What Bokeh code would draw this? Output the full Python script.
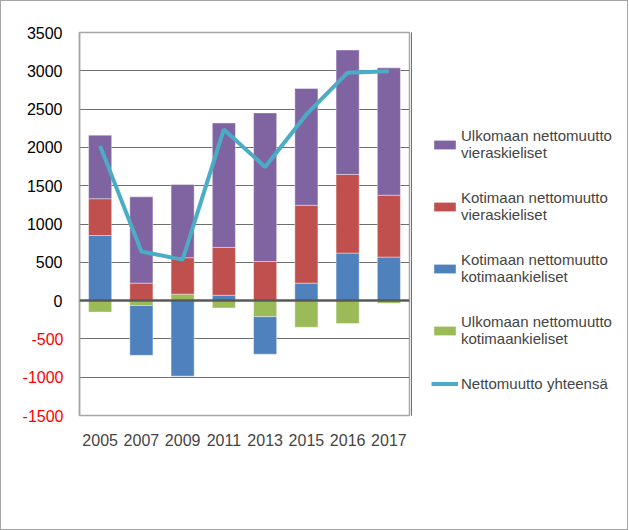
import numpy as np
from bokeh.plotting import figure
from bokeh.layouts import row
from bokeh.models import (ColumnDataSource, FixedTicker, LinearAxis, Legend, LegendItem,
                          Range1d, Span, Label)
from bokeh.embed import file_html
from bokeh.resources import INLINE

# ---- data ----
years = ["2005", "2007", "2009", "2011", "2013", "2015", "2016", "2017"]
ulk_kotimaank = [-150, -65, 84, -96, -210, -348, -300, -35]      # green
kot_kotimaank = [850, -650, -986, 70, -490, 228, 620, 568]        # blue
kot_vieras = [480, 228, 476, 624, 511, 1017, 1027, 808]           # red
ulk_vieras = [830, 1127, 955, 1625, 1939, 1524, 1624, 1663]       # purple
yhteensa = [2020, 640, 535, 2235, 1745, 2430, 2975, 2995]         # line

series_names = ["Ulkomaan nettomuutto\nkotimaankieliset",
                "Kotimaan nettomuutto\nkotimaankieliset",
                "Kotimaan nettomuutto\nvieraskieliset",
                "Ulkomaan nettomuutto\nvieraskieliset"]
line_name = "Nettomuutto yhteensä"
pos_ticks = [0, 500, 1000, 1500, 2000, 2500, 3000, 3500]
neg_ticks = [-1500, -1000, -500]
source_text = "Lähde:Tilastokeskus"

colors = ["#9BBB59", "#4F81BD", "#C0504D", "#8064A2"]
line_color = "#4BACC6"

FONT = "Liberation Sans"

xpos = [i for i in range(len(years))]

# ---- main chart ----
p = figure(x_range=Range1d(-0.5, len(years) - 0.5), y_range=Range1d(-1500, 3500),
           width=410, height=528, output_backend="svg", toolbar_location=None,
           min_border_left=78, min_border_top=31, min_border_right=2, min_border_bottom=114)

# stacked bars (positive and negative stacked separately, Excel style)
data = [ulk_kotimaank, kot_kotimaank, kot_vieras, ulk_vieras]
pos_base = np.zeros(len(years))
neg_base = np.zeros(len(years))
for vals, col in zip(data, colors):
    v = np.array(vals, dtype=float)
    bottom = np.where(v >= 0, pos_base, neg_base)
    top = bottom + v
    pos_base = np.where(v >= 0, top, pos_base)
    neg_base = np.where(v < 0, top, neg_base)
    src = ColumnDataSource(dict(x=xpos, bottom=bottom, top=top))
    p.vbar(x="x", bottom="bottom", top="top", width=0.56, source=src,
           fill_color=col, line_color="white", line_alpha=0.5, line_width=0.8)

p.line(x=xpos, y=yhteensa, line_color=line_color, line_width=4)

# grid
p.xgrid.grid_line_color = None
p.ygrid.ticker = FixedTicker(ticks=neg_ticks + pos_ticks[1:])
p.ygrid.grid_line_color = "#6e6e6e"
p.ygrid.grid_line_width = 1
p.ygrid.level = "underlay"
zero = Span(location=0, dimension="width", line_color="#595959", line_width=2.5)
p.add_layout(zero)

p.outline_line_color = "#a6a6a6"
p.outline_line_width = 1.5

# y axis: positive labels in black
p.yaxis.ticker = FixedTicker(ticks=pos_ticks)
p.yaxis.axis_line_color = "#a6a6a6"
p.yaxis.axis_line_width = 1.5
p.yaxis.major_tick_line_color = None
p.yaxis.minor_tick_line_color = None
p.yaxis.major_tick_out = 0
p.yaxis.minor_tick_out = 0
p.yaxis.major_label_text_font = FONT
p.yaxis.major_label_text_font_size = "16px"
p.yaxis.major_label_text_color = "black"
p.yaxis.major_label_standoff = 17

# negative labels in red via a second (outer) axis pulled back with a negative standoff
neg_axis = LinearAxis(ticker=FixedTicker(ticks=neg_ticks))
neg_axis.axis_line_color = None
neg_axis.major_tick_line_color = None
neg_axis.minor_tick_line_color = None
neg_axis.major_tick_out = 0
neg_axis.minor_tick_out = 0
neg_axis.major_label_text_font = FONT
neg_axis.major_label_text_font_size = "16px"
neg_axis.major_label_text_color = "red"
neg_axis.major_label_standoff = -40
neg_axis.major_label_overrides = {t: str(t) for t in neg_ticks}
p.add_layout(neg_axis, "left")

# x axis
p.xaxis.ticker = FixedTicker(ticks=xpos)
p.xaxis.major_label_overrides = {i: y for i, y in zip(xpos, years)}
p.xaxis.axis_line_color = None
p.xaxis.major_tick_line_color = None
p.xaxis.minor_tick_line_color = None
p.xaxis.major_tick_out = 0
p.xaxis.major_label_text_font = FONT
p.xaxis.major_label_text_font_size = "16px"
p.xaxis.major_label_standoff = 18

# ---- legend panel (separate figure; its key glyphs use the same data but lie outside its view) ----
q = figure(width=216, height=528, x_range=Range1d(20, 21), y_range=Range1d(0, 1),
           x_axis_type=None, y_axis_type=None, output_backend="svg", toolbar_location=None,
           min_border=0, outline_line_color=None)
keys = []
for vals, col in zip(data, colors):
    keys.append(q.vbar(x=xpos, top=vals, width=0.56, fill_color=col, line_color=None))
key_line = q.line(x=xpos, y=yhteensa, line_color=line_color, line_width=4)

items = [LegendItem(label=series_names[3], renderers=[keys[3]]),
         LegendItem(label=series_names[2], renderers=[keys[2]]),
         LegendItem(label=series_names[1], renderers=[keys[1]]),
         LegendItem(label=series_names[0], renderers=[keys[0]]),
         LegendItem(label=line_name, renderers=[key_line])]
legend = Legend(items=items, location=(20, 23), border_line_color=None,
                background_fill_alpha=0, padding=0, margin=0,
                glyph_width=27, glyph_height=11, label_standoff=3,
                label_text_font=FONT, label_text_font_size="15px",
                spacing=28)
q.add_layout(legend, "center")

src_label = Label(x=59, y=-97, x_units="screen", y_units="screen", text=source_text,
                  text_font="Open Sans", text_font_size="13px", text_baseline="middle",
                  text_color="black")
q.add_layout(src_label)

layout = row(p, q)
layout.styles = {"border": "1px solid #a6a6a6"}

open("out.html", "w").write(file_html(layout, INLINE))
